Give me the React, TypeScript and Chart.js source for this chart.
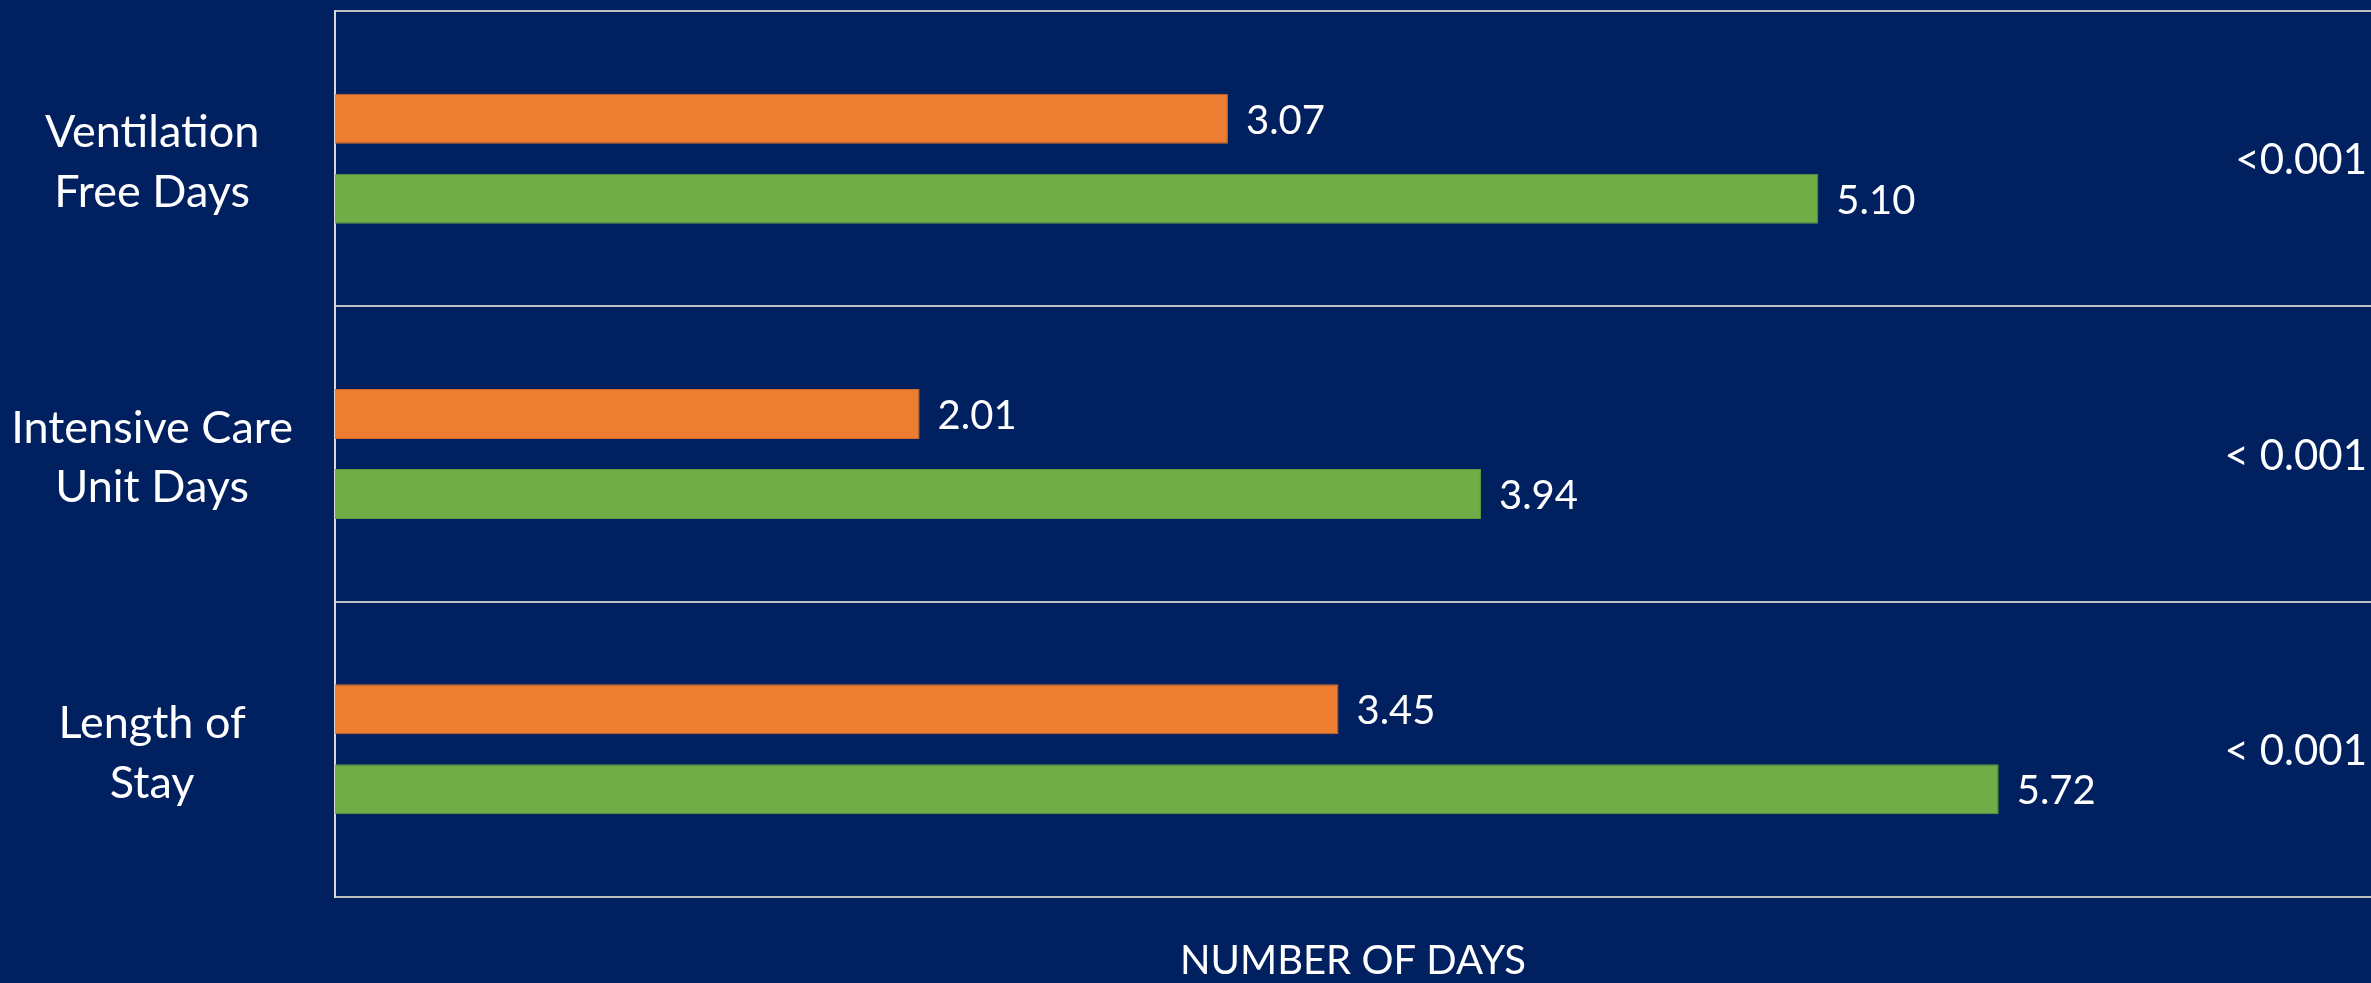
import React, { useEffect, useRef } from 'react';
import { Chart, registerables } from 'chart.js';

Chart.register(...registerables);

// ---- Data ----
const categories: string[][] = [
  ['Ventilation', 'Free Days'],
  ['Intensive Care', 'Unit Days'],
  ['Length of', 'Stay'],
];
const orangeValues: number[] = [3.07, 2.01, 3.45];
const greenValues: number[] = [5.1, 3.94, 5.72];
const pValues: string[] = ['<0.001', '< 0.001', '< 0.001'];
const xAxisTitle = 'NUMBER OF DAYS';
const xMin = 0;
const xMax = 7;

const BG = '#002060';
const FONT = 'Lato';

const labelPlugin = {
  id: 'valueAndPLabels',
  afterDatasetsDraw(chart: any) {
    const ctx = chart.ctx;
    ctx.save();
    ctx.fillStyle = '#FFFFFF';
    ctx.textBaseline = 'middle';
    ctx.textAlign = 'left';
    ctx.font = `40px ${FONT}`;
    chart.data.datasets.forEach((ds: any, di: number) => {
      const meta = chart.getDatasetMeta(di);
      meta.data.forEach((bar: any, i: number) => {
        ctx.fillText(Number(ds.data[i]).toFixed(2), bar.x + 18, bar.y + 2);
      });
    });
    const yScale = chart.scales.y;
    ctx.font = `42px ${FONT}`;
    ctx.textAlign = 'right';
    pValues.forEach((p, i) => {
      ctx.fillText(p, chart.chartArea.right - 4, yScale.getPixelForValue(i) + 2);
    });
    ctx.restore();
  },
};

export default function App() {
  const canvasRef = useRef<HTMLCanvasElement | null>(null);

  useEffect(() => {
    if (!canvasRef.current) return;
    const chart = new Chart(canvasRef.current, {
      type: 'bar',
      data: {
        labels: categories,
        datasets: [
          {
            label: 'Group 1',
            data: orangeValues,
            backgroundColor: '#ED7D31',
            borderColor: '#D46A25',
            borderWidth: 1,
            categoryPercentage: 0.5416,
            barPercentage: 0.625,
          },
          {
            label: 'Group 2',
            data: greenValues,
            backgroundColor: '#70AD47',
            borderColor: '#5F9A3B',
            borderWidth: 1,
            categoryPercentage: 0.5416,
            barPercentage: 0.625,
          },
        ],
      },
      options: {
        animation: false,
        responsive: true,
        maintainAspectRatio: false,
        indexAxis: 'y',
        layout: { padding: { top: 11, right: 0, bottom: 0, left: 0 } },
        plugins: {
          legend: { display: false },
          tooltip: { enabled: false },
        },
        scales: {
          x: {
            min: xMin,
            max: xMax,
            ticks: { display: false },
            grid: { display: false, drawTicks: false },
            border: { display: true, color: '#BFBFBF', width: 2 },
            title: {
              display: true,
              text: xAxisTitle,
              color: '#FFFFFF',
              font: { family: FONT, size: 40, lineHeight: 1.1 },
              padding: { top: 0, bottom: 0 },
            },
            afterFit: (s: any) => {
              s.height = 86;
              s.paddingLeft = 0;
              s.paddingRight = 0;
            },
          },
          y: {
            type: 'category',
            grid: { display: true, offset: true, color: '#BFBFBF', lineWidth: 2, drawTicks: false },
            border: { display: true, color: '#D9D9D9', width: 2 },
            ticks: {
              color: '#FFFFFF',
              font: { family: FONT, size: 45, lineHeight: 1.33 },
              crossAlign: 'center',
              padding: 42,
              labelOffset: 4,
            },
            afterFit: (s: any) => {
              s.width = 335;
              s.paddingTop = 0;
              s.paddingBottom = 0;
            },
          },
        },
      },
      plugins: [labelPlugin],
    });
    return () => chart.destroy();
  }, []);

  return (
    <div
      style={{
        position: 'fixed',
        left: 0,
        top: 0,
        width: 2371,
        height: 983,
        background: BG,
      }}
    >
      <canvas ref={canvasRef} />
    </div>
  );
}
